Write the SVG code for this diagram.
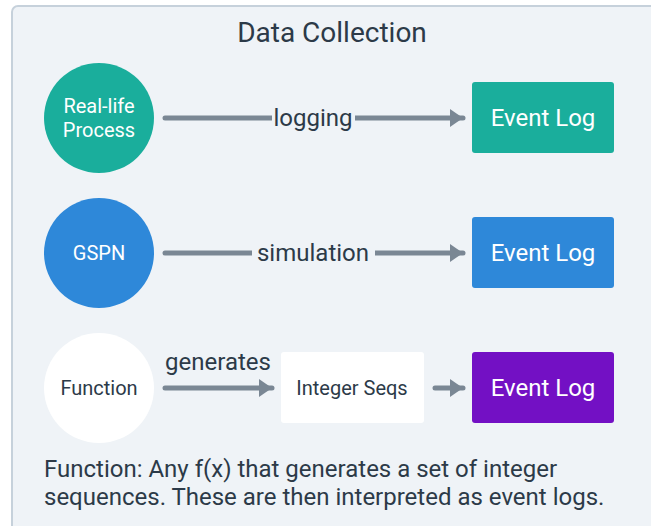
<svg xmlns="http://www.w3.org/2000/svg" width="651" height="526" viewBox="0 0 651 526">
  <style>
    text { font-family: Roboto, "Liberation Sans", sans-serif; }
    .title { font-size: 28px; fill: #2c3a48; text-anchor: middle; }
    .node-label { font-size: 20px; fill: #ffffff; text-anchor: middle; }
    .box-label { font-size: 24px; fill: #ffffff; text-anchor: middle; }
    .edge-label { font-size: 24px; fill: #2c3a48; text-anchor: middle; }
    .dark-label { font-size: 20px; fill: #2c3a48; text-anchor: middle; }
    .note { font-size: 24px; fill: #2c3a48; }
    .edge { stroke: #7a8794; stroke-width: 5; stroke-linecap: round; fill: none; }
    .mask { fill: #eff3f7; }
  </style>
  <defs>
    <marker id="head" viewBox="0 0 13 18" refX="13" refY="9" markerWidth="13" markerHeight="18" markerUnits="userSpaceOnUse" orient="auto">
      <path d="M0,0 L13,9 L0,18 Z" fill="#7a8794"/>
    </marker>
  </defs>

  <!-- background panel -->
  <rect x="0" y="0" width="651" height="526" fill="#ffffff"/>
  <rect x="12" y="6" width="660" height="540" rx="6" fill="#eff3f7" stroke="#c6d1db" stroke-width="2"/>
  <text class="title" x="332" y="42">Data Collection</text>

  <!-- connectors -->
  <g id="connectors">
    <line class="edge" x1="165" y1="118" x2="463" y2="118" marker-end="url(#head)"/>
    <rect class="mask" x="272" y="104" width="83" height="28"/>
    <text class="edge-label" x="313" y="126">logging</text>

    <line class="edge" x1="165" y1="253" x2="463" y2="253" marker-end="url(#head)"/>
    <rect class="mask" x="252" y="239" width="123" height="28"/>
    <text class="edge-label" x="313" y="261">simulation</text>

    <line class="edge" x1="165" y1="388" x2="272" y2="388" marker-end="url(#head)"/>
    <text class="edge-label" x="218" y="370">generates</text>

    <line class="edge" x1="435" y1="388" x2="463" y2="388" marker-end="url(#head)"/>
  </g>

  <!-- row 1 -->
  <g id="real-life-process">
    <circle cx="99" cy="118" r="55" fill="#1aae9c"/>
    <text class="node-label" x="99" y="113">Real-life</text>
    <text class="node-label" x="99" y="137">Process</text>
  </g>
  <g id="event-log-1">
    <rect x="472" y="82" width="142" height="71" rx="3" fill="#1aae9c"/>
    <text class="box-label" x="543" y="126">Event Log</text>
  </g>

  <!-- row 2 -->
  <g id="gspn">
    <circle cx="99" cy="253" r="55" fill="#2e88d9"/>
    <text class="node-label" x="99" y="260">GSPN</text>
  </g>
  <g id="event-log-2">
    <rect x="472" y="217" width="142" height="71" rx="3" fill="#2e88d9"/>
    <text class="box-label" x="543" y="261">Event Log</text>
  </g>

  <!-- row 3 -->
  <g id="function">
    <circle cx="99" cy="388" r="55" fill="#ffffff"/>
    <text class="dark-label" x="99" y="395">Function</text>
  </g>
  <g id="integer-seqs">
    <rect x="281" y="352" width="143" height="71" rx="3" fill="#ffffff"/>
    <text class="dark-label" x="352" y="395">Integer Seqs</text>
  </g>
  <g id="event-log-3">
    <rect x="472" y="352" width="142" height="71" rx="3" fill="#7310c4"/>
    <text class="box-label" x="543" y="396">Event Log</text>
  </g>

  <!-- footnote -->
  <text class="note" x="44" y="477">Function: Any f(x) that generates a set of integer</text>
  <text class="note" x="44" y="505">sequences. These are then interpreted as event logs.</text>
</svg>
